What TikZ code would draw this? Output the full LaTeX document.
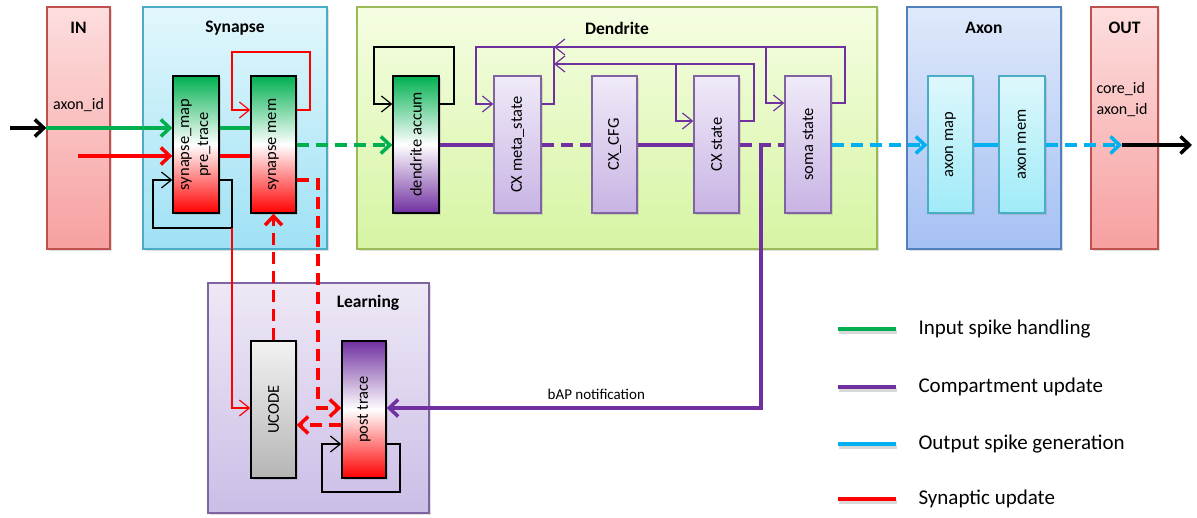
\documentclass[tikz,border=0pt]{standalone}
\usepackage{fontspec}
\setmainfont{Carlito}
\usetikzlibrary{arrows.meta,shadows,calc}
\definecolor{cgreen}{HTML}{00B050}
\definecolor{cred}{HTML}{FF0000}
\definecolor{cpurple}{HTML}{7030A0}
\definecolor{ccyan}{HTML}{00B0F0}
\definecolor{inTop}{HTML}{FDDEDE}
\definecolor{inBot}{HTML}{F7A0A0}
\definecolor{inBd}{HTML}{C0504D}
\definecolor{synTop}{HTML}{E2F7FC}
\definecolor{synBot}{HTML}{9FE1F5}
\definecolor{synBd}{HTML}{4BACC6}
\definecolor{denTop}{HTML}{F5FDE2}
\definecolor{denBot}{HTML}{D6F5A3}
\definecolor{denBd}{HTML}{9BBB59}
\definecolor{axTop}{HTML}{E0E9FB}
\definecolor{axBot}{HTML}{A5C0F3}
\definecolor{axBd}{HTML}{4F81BD}
\definecolor{lnTop}{HTML}{EEE8F5}
\definecolor{lnBot}{HTML}{CBBEE7}
\definecolor{lnBd}{HTML}{8064A2}
\definecolor{pbTop}{HTML}{F0EAF8}
\definecolor{pbBot}{HTML}{C8B4E4}
\definecolor{abTop}{HTML}{DEF8FC}
\definecolor{abBot}{HTML}{A0EBF8}
\definecolor{ucTop}{HTML}{F2F2F2}
\definecolor{ucBot}{HTML}{B5B5B5}
\begin{document}
\begin{tikzpicture}[x=1pt,y=-1pt,
  shad/.style={drop shadow={opacity=0.25,shadow xshift=2pt,shadow yshift=-2pt}},
  cont/.style={draw, line width=1.3pt, inner sep=0pt, shad},
  inbox/.style={cont, top color=inTop, bottom color=inBot, draw=inBd, minimum height=242pt},
  ibox/.style={draw, line width=1.3pt, inner sep=0pt, minimum width=46pt, minimum height=137pt, shad},
  pbox/.style={ibox, draw=lnBd, top color=pbTop, bottom color=pbBot},
  abox/.style={ibox, draw=synBd, top color=abTop, bottom color=abBot},
  bbox/.style={ibox, draw=black},
  ttl/.style={font=\fontsize{17.5}{20}\selectfont\bfseries},
  lbl/.style={rotate=90, font=\fontsize{16.5}{19}\selectfont, align=center},
  txt/.style={font=\fontsize{16}{19}\selectfont},
  leg/.style={font=\fontsize{21}{24}\selectfont, anchor=west},
  thk/.style={line width=3.5pt},
  thn/.style={line width=1.2pt},
  dsh/.style={dash pattern=on 12pt off 7pt},
  tipT/.style={-{Straight Barb[length=9pt,width=17pt]}},
  tipN/.style={-{Straight Barb[length=10pt,width=16pt]}},
]
\fill[white] (0,0) rectangle (1197,518);
\useasboundingbox (0,0) rectangle (1197,518);

% containers
\node[inbox, minimum width=63pt] (in) at (78.5,128) {};
\node[cont, top color=synTop, bottom color=synBot, draw=synBd, minimum width=184pt, minimum height=242pt] (syn) at (235,128) {};
\node[cont, top color=denTop, bottom color=denBot, draw=denBd, minimum width=520pt, minimum height=242pt] (den) at (617,128) {};
\node[cont, top color=axTop, bottom color=axBot, draw=axBd, minimum width=154pt, minimum height=242pt] (axon) at (984,128) {};
\node[inbox, minimum width=67pt] (out) at (1124.5,128) {};
\node[cont, top color=lnTop, bottom color=lnBot, draw=lnBd, minimum width=221pt, minimum height=230pt] (learn) at (318.5,398) {};

\node[ttl] (inT) at (78.5,28) {IN};
\node[ttl] (synT) at (235,28) {Synapse};
\node[ttl] (denT) at (617,28) {Dendrite};
\node[ttl] (axT) at (984,28) {Axon};
\node[ttl] (outT) at (1124.5,28) {OUT};
\node[ttl] (lnT) at (368,303) {Learning};

\node[txt] (inid) at (78.5,105) {axon\_id};
\node[txt, anchor=west] (outcore) at (1093,89) {core\_id};
\node[txt, anchor=west] (outaxon) at (1093,110) {axon\_id};

% inner boxes
\node[bbox, top color=cgreen, bottom color=cred, middle color=white] (smap) at (196,144.5) {};
\node[bbox, top color=cgreen, bottom color=cred, middle color=white, minimum width=45pt] (smem) at (273.5,144.5) {};
\node[bbox, top color=cgreen, bottom color=cpurple, middle color=white] (dacc) at (416,144.5) {};
\node[pbox, minimum width=47pt] (meta) at (517.5,144.5) {};
\node[pbox, minimum width=45pt] (cfg) at (614.5,144.5) {};
\node[pbox, minimum width=45pt] (cxs) at (716.5,144.5) {};
\node[pbox] (soma) at (808,144.5) {};
\node[abox, minimum width=45pt] (amap) at (950.5,144.5) {};
\node[abox] (amem) at (1022,144.5) {};
\node[bbox, top color=ucTop, bottom color=ucBot, minimum width=45pt] (ucode) at (273.5,409.5) {};
\node[bbox, top color=cpurple, bottom color=cred, middle color=white, minimum width=44pt] (post) at (364,409.5) {};

\node[lbl] (smapT) at (smap) {synapse\_map\\pre\_trace};
\node[lbl] (smemT) at (smem) {synapse mem};
\node[lbl] (daccT) at (dacc) {dendrite accum};
\node[lbl] (metaT) at (meta) {CX meta\_state};
\node[lbl] (cfgT) at (cfg) {CX\_CFG};
\node[lbl] (cxsT) at (cxs) {CX state};
\node[lbl] (somaT) at (soma) {soma state};
\node[lbl] (amapT) at (amap) {axon map};
\node[lbl] (amemT) at (amem) {axon mem};
\node[lbl] (ucodeT) at (ucode) {UCODE};
\node[lbl] (postT) at (post) {post trace};

% coordinates
\coordinate (src) at (10,128);
\coordinate (redsrc) at (78,156);
\coordinate (sink) at (1192,145);
\coordinate (outpt) at (1122,145);

% input
\draw[thk, black, tipT] (src) -- (in.west |- 0,128);
\draw[thk, cgreen, tipT] (in.west |- 0,128) -- (smap.west |- 0,128);
\draw[thk, cgreen] (smap.east |- 0,128) -- (smem.west |- 0,128);
\draw[thk, cred, tipT] (redsrc) -- (smap.west |- 0,156);
\draw[thk, cred] (smap.east |- 0,156) -- (smem.west |- 0,156);

% synapse loops
\draw[thn, black, tipN] (smap.east |- 0,180) -| (232,228) -| (153,180) -- (smap.west |- 0,180);
\draw[thn, cred, tipN] (232,228) |- (ucode.west |- 0,408);
\draw[thn, cred, tipN] (smem.east |- 0,110) -| (310,52) -| (232,110) -- (smem.west |- 0,110);

% synaptic update dashed
\draw[thk, cred, dsh, tipT] (smem.east |- 0,180) -| (318,408) -- (post.west |- 0,408);
\draw[thk, cred, dsh, tipT] (ucode.north) -- (smem.south);
\draw[thk, cred, dsh, tipT] (post.west |- 0,425) -- (ucode.east |- 0,425);
\draw[thn, black, tipN] (post.east |- 0,444) -| (400,492) -| (322,444) -- (post.west |- 0,444);

% dendrite
\draw[thk, cgreen, dsh, tipT] (smem.east |- 0,145) -- (dacc.west |- 0,145);
\draw[thn, black, tipN] (dacc.east |- 0,104) -| (454,47) -| (374,104) -- (dacc.west |- 0,104);
\draw[thk, cpurple] (dacc.east |- 0,145) -- (meta.west |- 0,145);
\draw[thk, cpurple, dsh] (meta.east |- 0,145) -- (cfg.west |- 0,145);
\draw[thk, cpurple] (cfg.east |- 0,145) -- (cxs.west |- 0,145);
\draw[thk, cpurple, dsh] (cxs.east |- 0,145) -- (soma.west |- 0,145);

\draw[thn, cpurple, tipN] (meta.east |- 0,104) -| (554,47) -| (476,104) -- (meta.west |- 0,104);
\draw[thn, cpurple, tipN] (cxs.east |- 0,121) -| (754,64) -| (676,121) -- (cxs.west |- 0,121);
\draw[thn, cpurple, tipN] (676,64) -- (554,64);
\draw[thn, cpurple, tipN] (soma.east |- 0,103) -| (845,47) -| (766,103) -- (soma.west |- 0,103);
\draw[thn, cpurple, tipN] (766,47) -- (554,47);

% bAP
\draw[thk, cpurple, tipT] (761,145) |- (post.east |- 0,408) node[pos=0.72, above=3pt, black, font=\fontsize{15}{18}\selectfont] (bap) {bAP notification};

% axon
\draw[thk, ccyan, dsh, tipT] (soma.east |- 0,145) -- (amap.west |- 0,145);
\draw[thk, ccyan] (amap.east |- 0,145) -- (amem.west |- 0,145);
\draw[thk, ccyan, dsh, tipT] (amem.east |- 0,145) -- (outpt);
\draw[thk, black, tipT] (outpt) -- (sink);

% legend
\coordinate (l1a) at (838,329); \coordinate (l1b) at (896,329);
\coordinate (l2a) at (838,387); \coordinate (l2b) at (896,387);
\coordinate (l3a) at (838,444); \coordinate (l3b) at (896,444);
\coordinate (l4a) at (838,499); \coordinate (l4b) at (896,499);
\foreach \a/\b/\c in {l1a/l1b/cgreen, l2a/l2b/cpurple, l3a/l3b/ccyan, l4a/l4b/cred}{
  \draw[line width=4pt, black, opacity=0.15] ($(\a)+(1,3)$) -- ($(\b)+(1,3)$);
  \draw[line width=4pt, \c] (\a) -- (\b);
}
\node[leg] (lg1) at (915,329) {Input spike handling};
\node[leg] (lg2) at (915,387) {Compartment update};
\node[leg] (lg3) at (915,444) {Output spike generation};
\node[leg] (lg4) at (915,499) {Synaptic update};
\end{tikzpicture}
\end{document}
